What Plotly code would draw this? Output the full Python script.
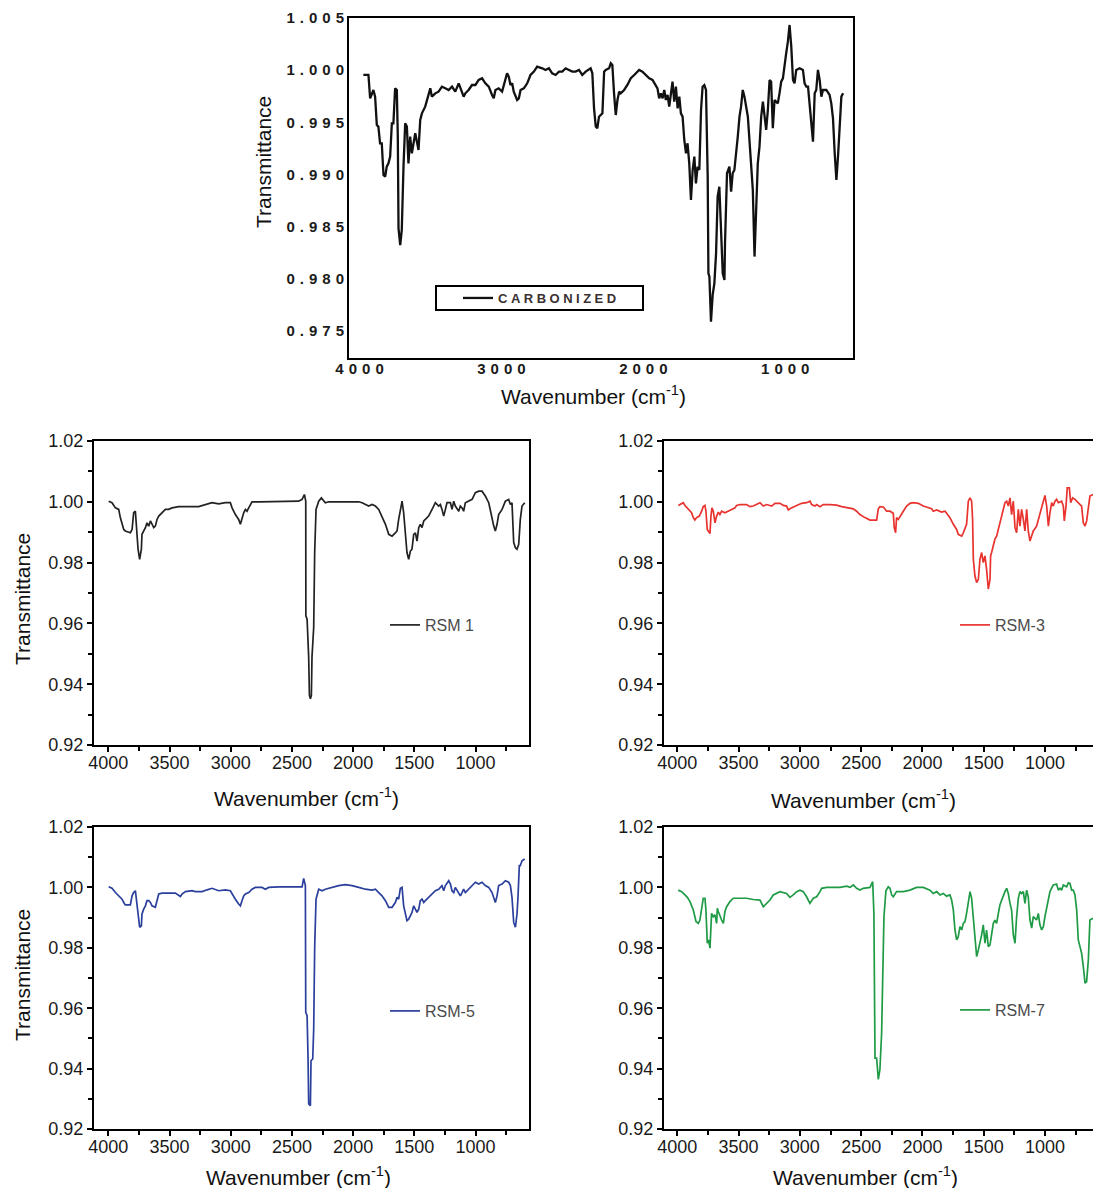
import plotly.graph_objects as go

# ---------------- data ----------------
carb_wn = [3991, 3955, 3943, 3920, 3908, 3896, 3885, 3873, 3861, 3849, 3837, 3826, 3814, 3802, 3790, 3779,
           3767, 3755, 3748, 3743, 3731, 3720, 3708, 3696, 3684, 3673, 3661, 3649, 3625, 3602, 3590, 3578,
           3555, 3531, 3519, 3508, 3484, 3461, 3437, 3413, 3390, 3366, 3343, 3319, 3296, 3284, 3272, 3249,
           3225, 3201, 3178, 3154, 3131, 3107, 3084, 3072, 3060, 3037, 3013, 2989, 2978, 2966, 2954, 2942,
           2931, 2907, 2895, 2883, 2860, 2836, 2813, 2789, 2766, 2730, 2707, 2683, 2660, 2636, 2612, 2589,
           2565, 2542, 2518, 2495, 2471, 2448, 2424, 2389, 2377, 2365, 2353, 2342, 2330, 2306, 2294, 2283,
           2259, 2247, 2236, 2224, 2212, 2200, 2188, 2177, 2153, 2130, 2106, 2082, 2047, 2024, 2000, 1976,
           1953, 1941, 1918, 1906, 1894, 1882, 1870, 1859, 1847, 1835, 1823, 1812, 1800, 1788, 1776, 1764,
           1753, 1741, 1729, 1717, 1706, 1694, 1682, 1670, 1658, 1647, 1635, 1623, 1611, 1600, 1588, 1576,
           1564, 1559, 1552, 1541, 1529, 1517, 1505, 1494, 1482, 1470, 1458, 1446, 1442, 1428, 1411, 1399,
           1388, 1376, 1364, 1352, 1340, 1329, 1317, 1305, 1281, 1270, 1258, 1246, 1234, 1223, 1211, 1199,
           1187, 1175, 1164, 1152, 1140, 1128, 1117, 1105, 1093, 1070, 1058, 1046, 1034, 1022, 1011, 999,
           987, 975, 963, 952, 940, 916, 893, 881, 869, 857, 846, 834, 822, 810, 799, 787,
           775, 763, 752, 728, 705, 693, 681, 669, 657, 645, 634, 622, 610]
carb_t = [0.99954, 0.99954, 0.99730, 0.99810, 0.99746, 0.99475, 0.99459, 0.99299, 0.99299, 0.98995, 0.98979,
          0.99075, 0.99107, 0.99171, 0.99490, 0.99490, 0.99826, 0.99810, 0.99363, 0.98484, 0.98324, 0.98468,
          0.99075, 0.99490, 0.99459, 0.99107, 0.99363, 0.99203, 0.99395, 0.99235, 0.99522, 0.99586, 0.99650,
          0.99778, 0.99826, 0.99746, 0.99778, 0.99794, 0.99842, 0.99826, 0.99810, 0.99842, 0.99794, 0.99874,
          0.99794, 0.99746, 0.99778, 0.99810, 0.99858, 0.99858, 0.99906, 0.99922, 0.99874, 0.99842, 0.99762,
          0.99730, 0.99810, 0.99826, 0.99794, 0.99906, 0.99970, 0.99938, 0.99858, 0.99874, 0.99794, 0.99714,
          0.99730, 0.99810, 0.99826, 0.99874, 0.99954, 0.99986, 1.00034, 1.00018, 1.00002, 1.00018, 0.99970,
          0.99954, 0.99986, 0.99986, 1.00018, 1.00002, 0.99986, 0.99986, 1.00002, 0.99954, 0.99986, 1.00018,
          0.99970, 0.99634, 0.99459, 0.99443, 0.99554, 0.99586, 0.99986, 1.00002, 1.00018, 1.00066, 1.00050,
          0.99778, 0.99570, 0.99714, 0.99794, 0.99778, 0.99810, 0.99858, 0.99922, 0.99954, 1.00002, 0.99986,
          0.99954, 0.99922, 0.99906, 0.99874, 0.99826, 0.99730, 0.99778, 0.99730, 0.99810, 0.99714, 0.99762,
          0.99650, 0.99762, 0.99890, 0.99698, 0.99842, 0.99634, 0.99746, 0.99586, 0.99554, 0.99331, 0.99203,
          0.99299, 0.99107, 0.98756, 0.99043, 0.99171, 0.98915, 0.99075, 0.99043, 0.99618, 0.99842, 0.99858,
          0.99810, 0.98979, 0.98053, 0.98021, 0.97590, 0.97845, 0.97957, 0.98245, 0.98788, 0.98883, 0.98500,
          0.98053, 0.97989, 0.98340, 0.99011, 0.99075, 0.98836, 0.99011, 0.99043, 0.99187, 0.99363, 0.99554,
          0.99650, 0.99810, 0.99746, 0.99554, 0.99347, 0.99107, 0.98852, 0.98213, 0.98596, 0.99107, 0.99267,
          0.99554, 0.99698, 0.99570, 0.99427, 0.99618, 0.99906, 0.99890, 0.99443, 0.99714, 0.99682, 0.99778,
          0.99890, 0.99922, 1.00066, 1.00161, 1.00273, 1.00433, 1.00225, 0.99906, 0.99874, 1.00002, 1.00018,
          1.00002, 0.99874, 0.99842, 0.99842, 0.99682, 0.99522, 0.99315, 0.99778, 0.99810, 1.00002, 0.99906,
          0.99746, 0.99810, 0.99810, 0.99762, 0.99682, 0.99538, 0.99203, 0.98947, 0.99187, 0.99522, 0.99746,
          0.99778]

rsm1_wn = [3997, 3970, 3942, 3915, 3902, 3888, 3874, 3861, 3833, 3820, 3806, 3793, 3779, 3771, 3757, 3744,
           3730, 3725, 3711, 3697, 3684, 3670, 3656, 3643, 3629, 3616, 3602, 3588, 3561, 3534, 3507, 3479,
           3425, 3370, 3316, 3262, 3207, 3153, 3098, 3044, 3003, 2989, 2962, 2935, 2921, 2908, 2894, 2880,
           2867, 2853, 2826, 2771, 2717, 2662, 2608, 2553, 2499, 2445, 2417, 2398, 2387, 2386, 2376, 2363,
           2357, 2349, 2341, 2336, 2322, 2314, 2303, 2281, 2259, 2240, 2227, 2199, 2145, 2063, 1982, 1954,
           1927, 1900, 1873, 1845, 1818, 1791, 1764, 1736, 1709, 1682, 1655, 1641, 1628, 1614, 1600, 1587,
           1573, 1560, 1546, 1532, 1519, 1505, 1491, 1478, 1464, 1451, 1437, 1423, 1410, 1383, 1355, 1328,
           1301, 1287, 1274, 1260, 1246, 1233, 1205, 1192, 1178, 1165, 1137, 1124, 1110, 1097, 1083, 1056,
           1028, 1001, 974, 947, 920, 892, 865, 851, 838, 824, 811, 783, 756, 729, 715, 702,
           688, 674, 661, 647, 634, 620, 598]
rsm1_t = [1.0002, 0.9997, 0.9980, 0.9975, 0.9948, 0.9931, 0.9909, 0.9904, 0.9898, 0.9898, 0.9909, 0.9964,
          0.9969, 0.9920, 0.9844, 0.9811, 0.9844, 0.9893, 0.9904, 0.9915, 0.9931, 0.9920, 0.9937, 0.9926,
          0.9915, 0.9920, 0.9942, 0.9953, 0.9964, 0.9975, 0.9975, 0.9980, 0.9984, 0.9983, 0.9984, 0.9984,
          0.9991, 0.9997, 0.9993, 0.9997, 0.9997, 0.9980, 0.9958, 0.9942, 0.9926, 0.9948, 0.9964, 0.9975,
          0.9969, 0.9980, 1.0000, 1.0000, 1.0000, 1.0000, 1.0002, 1.0000, 1.0000, 1.0002, 1.0008, 1.0024,
          1.0002, 0.9625, 0.9614, 0.9489, 0.9363, 0.9352, 0.9363, 0.9489, 0.9587, 0.9833, 0.9975, 1.0002,
          1.0013, 1.0002, 0.9997, 1.0000, 1.0000, 1.0000, 1.0000, 1.0000, 0.9997, 0.9991, 0.9986, 0.9991,
          0.9986, 0.9975, 0.9953, 0.9926, 0.9893, 0.9887, 0.9898, 0.9904, 0.9942, 0.9975, 1.0002, 0.9964,
          0.9887, 0.9833, 0.9811, 0.9838, 0.9844, 0.9893, 0.9898, 0.9871, 0.9915, 0.9926, 0.9915, 0.9937,
          0.9942, 0.9953, 0.9975, 0.9997, 0.9986, 0.9991, 0.9975, 0.9953, 0.9975, 0.9997, 0.9997, 0.9975,
          1.0002, 0.9986, 0.9969, 0.9986, 0.9980, 0.9969, 0.9997, 1.0002, 1.0008, 1.0030, 1.0035, 1.0035,
          1.0019, 0.9997, 0.9942, 0.9920, 0.9904, 0.9926, 0.9958, 0.9975, 1.0002, 1.0008, 0.9991, 0.9997,
          0.9866, 0.9849, 0.9844, 0.9860, 0.9942, 0.9986, 0.9997]

rsm3_wn = [3991, 3964, 3951, 3937, 3910, 3883, 3869, 3856, 3842, 3820, 3801, 3788, 3774, 3766, 3755, 3739,
           3733, 3725, 3717, 3706, 3692, 3679, 3665, 3652, 3638, 3611, 3584, 3556, 3529, 3516, 3488, 3434,
           3407, 3380, 3353, 3325, 3298, 3271, 3230, 3203, 3162, 3135, 3108, 3094, 3081, 3053, 3026, 2985,
           2945, 2917, 2904, 2877, 2863, 2836, 2809, 2754, 2700, 2659, 2618, 2564, 2537, 2510, 2469, 2428,
           2374, 2360, 2347, 2319, 2292, 2265, 2238, 2230, 2219, 2211, 2197, 2183, 2156, 2129, 2102, 2075,
           2034, 1993, 1952, 1925, 1912, 1884, 1844, 1816, 1803, 1776, 1748, 1721, 1708, 1680, 1667, 1653,
           1640, 1626, 1612, 1599, 1591, 1585, 1572, 1558, 1544, 1531, 1517, 1504, 1490, 1477, 1463, 1449,
           1444, 1436, 1422, 1409, 1395, 1381, 1368, 1354, 1341, 1327, 1313, 1300, 1286, 1273, 1259, 1245,
           1232, 1218, 1205, 1191, 1177, 1164, 1150, 1137, 1123, 1109, 1096, 1069, 1041, 1028, 1014, 1001,
           987, 973, 960, 946, 933, 919, 906, 892, 865, 851, 843, 829, 819, 802, 791, 775,
           756, 729, 702, 688, 674, 661, 647, 634, 609]
rsm3_t = [0.9988, 0.9993, 0.9997, 0.9988, 0.9977, 0.9964, 0.9948, 0.9940, 0.9948, 0.9953, 0.9969, 0.9984,
          0.9988, 0.9969, 0.9909, 0.9898, 0.9896, 0.9953, 0.9980, 0.9969, 0.9931, 0.9953, 0.9966, 0.9958,
          0.9969, 0.9964, 0.9969, 0.9975, 0.9980, 0.9988, 0.9991, 0.9991, 0.9984, 0.9986, 0.9991, 0.9997,
          0.9986, 0.9991, 0.9986, 0.9995, 0.9995, 0.9988, 0.9986, 0.9973, 0.9977, 0.9984, 0.9988, 0.9995,
          0.9997, 1.0002, 0.9991, 0.9986, 0.9991, 0.9984, 0.9991, 0.9991, 0.9989, 0.9984, 0.9980, 0.9977,
          0.9969, 0.9958, 0.9948, 0.9940, 0.9940, 0.9977, 0.9984, 0.9983, 0.9969, 0.9969, 0.9962, 0.9915,
          0.9898, 0.9948, 0.9942, 0.9953, 0.9969, 0.9986, 0.9995, 0.9997, 0.9995, 0.9986, 0.9980, 0.9977,
          0.9969, 0.9973, 0.9966, 0.9969, 0.9962, 0.9948, 0.9926, 0.9909, 0.9893, 0.9887, 0.9898, 0.9915,
          0.9926, 1.0002, 1.0013, 1.0002, 0.9942, 0.9811, 0.9756, 0.9734, 0.9745, 0.9811, 0.9833, 0.9800,
          0.9822, 0.9778, 0.9713, 0.9745, 0.9822, 0.9833, 0.9855, 0.9877, 0.9887, 0.9909, 0.9931, 0.9948,
          0.9975, 0.9997, 1.0002, 0.9986, 1.0013, 0.9958, 1.0002, 0.9915, 0.9898, 0.9975, 0.9920, 0.9975,
          0.9942, 0.9904, 0.9975, 0.9904, 0.9871, 0.9893, 0.9904, 0.9920, 0.9964, 0.9980, 1.0008, 1.0021,
          0.9986, 0.9920, 0.9964, 0.9997, 0.9986, 1.0002, 1.0008, 0.9997, 1.0002, 0.9986, 0.9937, 0.9986,
          1.0046, 1.0046, 0.9997, 1.0013, 1.0008, 0.9997, 0.9986, 0.9931, 0.9920, 0.9937, 0.9986, 1.0019,
          1.0024]

rsm5_wn = [3997, 3970, 3942, 3915, 3888, 3874, 3861, 3833, 3820, 3806, 3793, 3779, 3765, 3757, 3744, 3730,
           3725, 3711, 3697, 3684, 3670, 3656, 3643, 3616, 3602, 3588, 3561, 3507, 3452, 3411, 3398, 3370,
           3316, 3289, 3234, 3193, 3153, 3098, 3044, 3003, 2989, 2962, 2935, 2921, 2908, 2894, 2880, 2853,
           2826, 2799, 2744, 2717, 2690, 2608, 2499, 2417, 2404, 2390, 2387, 2376, 2368, 2363, 2349, 2344,
           2330, 2322, 2314, 2303, 2281, 2254, 2227, 2172, 2118, 2063, 2009, 1954, 1900, 1845, 1818, 1791,
           1764, 1736, 1709, 1682, 1655, 1641, 1628, 1614, 1600, 1587, 1573, 1560, 1546, 1532, 1519, 1505,
           1491, 1478, 1464, 1451, 1437, 1423, 1410, 1383, 1355, 1328, 1301, 1274, 1260, 1246, 1219, 1205,
           1192, 1178, 1165, 1151, 1137, 1124, 1110, 1097, 1083, 1056, 1028, 1001, 974, 947, 920, 892,
           865, 851, 838, 824, 811, 783, 756, 729, 715, 702, 688, 674, 661, 653, 642, 634,
           620, 598]
rsm5_t = [1.0002, 0.9997, 0.9983, 0.9972, 0.9961, 0.9950, 0.9942, 0.9942, 0.9942, 0.9972, 0.9983, 0.9989,
          0.9939, 0.9895, 0.9868, 0.9873, 0.9912, 0.9928, 0.9939, 0.9956, 0.9956, 0.9950, 0.9939, 0.9934,
          0.9956, 0.9978, 0.9981, 0.9981, 0.9981, 0.9970, 0.9978, 0.9986, 0.9989, 0.9986, 0.9986, 0.9992,
          0.9997, 0.9989, 0.9992, 0.9989, 0.9978, 0.9961, 0.9945, 0.9939, 0.9956, 0.9972, 0.9978, 0.9983,
          0.9994, 1.0000, 1.0000, 0.9994, 1.0000, 1.0002, 1.0002, 1.0002, 1.0030, 1.0006, 0.9586, 0.9575,
          0.9432, 0.9283, 0.9277, 0.9426, 0.9432, 0.9531, 0.9801, 0.9961, 0.9994, 0.9989, 0.9994, 1.0000,
          1.0006, 1.0009, 1.0006, 1.0000, 0.9994, 0.9991, 0.9994, 0.9983, 0.9972, 0.9956, 0.9934, 0.9934,
          0.9950, 0.9967, 0.9961, 0.9997, 1.0000, 0.9939, 0.9917, 0.9890, 0.9895, 0.9906, 0.9917, 0.9939,
          0.9928, 0.9917, 0.9928, 0.9956, 0.9961, 0.9950, 0.9956, 0.9967, 0.9978, 0.9989, 0.9994, 1.0006,
          0.9989, 1.0006, 1.0022, 1.0011, 0.9989, 0.9983, 1.0000, 0.9989, 0.9983, 0.9972, 0.9983, 0.9994,
          0.9983, 0.9994, 1.0006, 1.0017, 1.0011, 1.0017, 1.0006, 1.0000, 0.9983, 0.9961, 0.9950, 0.9972,
          1.0006, 1.0011, 1.0022, 1.0017, 1.0006, 0.9967, 0.9884, 0.9868, 0.9912, 0.9967, 1.0072, 1.0072,
          1.0088, 1.0094]

rsm7_wn = [3992, 3964, 3937, 3918, 3896, 3869, 3847, 3828, 3815, 3801, 3788, 3774, 3766, 3755, 3744, 3733,
           3725, 3720, 3706, 3692, 3679, 3673, 3665, 3652, 3638, 3624, 3611, 3597, 3570, 3543, 3489, 3434,
           3380, 3325, 3298, 3271, 3244, 3217, 3162, 3108, 3081, 3054, 3026, 2999, 2972, 2945, 2918, 2890,
           2863, 2836, 2822, 2782, 2727, 2673, 2619, 2591, 2564, 2537, 2510, 2483, 2428, 2406, 2396, 2387,
           2374, 2360, 2347, 2333, 2325, 2314, 2298, 2279, 2265, 2251, 2238, 2211, 2156, 2102, 2048, 1993,
           1939, 1912, 1884, 1857, 1830, 1803, 1776, 1762, 1748, 1735, 1721, 1708, 1694, 1680, 1667, 1653,
           1640, 1626, 1612, 1599, 1585, 1572, 1558, 1544, 1531, 1517, 1504, 1490, 1477, 1463, 1449, 1436,
           1422, 1409, 1395, 1381, 1368, 1354, 1341, 1327, 1313, 1300, 1286, 1273, 1259, 1245, 1232, 1218,
           1205, 1191, 1177, 1164, 1150, 1137, 1123, 1109, 1096, 1069, 1055, 1042, 1028, 1014, 1001, 987,
           973, 960, 933, 906, 892, 878, 865, 851, 824, 810, 797, 783, 770, 756, 742, 729,
           715, 702, 688, 674, 661, 647, 634, 609]
rsm7_t = [0.9991, 0.9986, 0.9975, 0.9967, 0.9953, 0.9925, 0.9887, 0.9881, 0.9892, 0.9925, 0.9964, 0.9964,
          0.9925, 0.9815, 0.9826, 0.9799, 0.9848, 0.9914, 0.9903, 0.9909, 0.9881, 0.9931, 0.9920, 0.9903,
          0.9892, 0.9881, 0.9920, 0.9936, 0.9953, 0.9964, 0.9964, 0.9964, 0.9960, 0.9958, 0.9936, 0.9947,
          0.9958, 0.9975, 0.9986, 0.9980, 0.9967, 0.9975, 0.9986, 0.9991, 0.9986, 0.9969, 0.9947, 0.9964,
          0.9969, 0.9986, 0.9997, 1.0000, 1.0000, 1.0000, 1.0004, 1.0000, 1.0008, 0.9997, 0.9991, 0.9997,
          1.0000, 1.0019, 0.9914, 0.9435, 0.9435, 0.9364, 0.9397, 0.9518, 0.9683, 0.9903, 0.9989, 1.0002,
          0.9997, 0.9975, 0.9969, 0.9986, 0.9986, 0.9991, 1.0000, 1.0000, 0.9991, 0.9980, 0.9986, 0.9975,
          0.9980, 0.9971, 0.9975, 0.9958, 0.9925, 0.9859, 0.9826, 0.9837, 0.9870, 0.9859, 0.9881, 0.9887,
          0.9914, 0.9958, 0.9986, 0.9964, 0.9903, 0.9837, 0.9771, 0.9793, 0.9815, 0.9843, 0.9876, 0.9815,
          0.9859, 0.9804, 0.9810, 0.9843, 0.9881, 0.9892, 0.9881, 0.9914, 0.9942, 0.9958, 0.9975, 0.9986,
          0.9997, 0.9980, 0.9947, 0.9925, 0.9843, 0.9815, 0.9903, 0.9964, 0.9986, 0.9980, 0.9986, 0.9947,
          0.9991, 0.9969, 0.9892, 0.9865, 0.9903, 0.9892, 0.9914, 0.9876, 0.9859, 0.9870, 0.9903, 0.9931,
          0.9969, 0.9986, 1.0008, 1.0011, 0.9991, 0.9997, 0.9991, 1.0008, 1.0002, 1.0015, 1.0013, 0.9991,
          0.9991, 0.9975, 0.9925, 0.9826, 0.9804, 0.9782, 0.9738, 0.9683, 0.9688, 0.9760, 0.9892, 0.9898]

series_names = ["CARBONIZED", "RSM 1", "RSM-3", "RSM-5", "RSM-7"]
series_colors = ["#111111", "#222222", "#e8332f", "#2b3f9c", "#1f9a45"]

top_x_ticks = [4000, 3000, 2000, 1000]
top_x_labels = ["4000", "3000", "2000", "1000"]
top_y_ticks = [0.975, 0.980, 0.985, 0.990, 0.995, 1.000, 1.005]
top_y_labels = ["0.975", "0.980", "0.985", "0.990", "0.995", "1.000", "1.005"]
x_ticks = [4000, 3500, 3000, 2500, 2000, 1500, 1000]
x_labels = ["4000", "3500", "3000", "2500", "2000", "1500", "1000"]
x_minor = [3750, 3250, 2750, 2250, 1750, 1250, 750]
y_ticks = [0.92, 0.94, 0.96, 0.98, 1.00, 1.02]
y_labels = ["0.92", "0.94", "0.96", "0.98", "1.00", "1.02"]
y_minor = [0.93, 0.95, 0.97, 0.99, 1.01]

x_title = "Wavenumber (cm<sup>-1</sup>)"
y_title = "Transmittance"

# ---------------- layout helpers (pixel geometry of the page) ----------------
# The figure fills the whole 1093 x 1188 window (the body margin is removed).
W, H = 1093, 1188
FONT = "Liberation Sans, Arial, sans-serif"


def px_x(x):
    return x / W


def px_y(y):
    return 1 - y / H


def dom_x(a, b):
    return [px_x(a), min(1.0, px_x(b))]


def dom_y(top, bottom):
    return [px_y(bottom), px_y(top)]


def spaced(s, px):
    return '<span style="letter-spacing:%spx">%s</span>' % (px, s)


fig = go.Figure()

data = [
    (carb_wn, carb_t, "x", "y", "legend", 2.3),
    (rsm1_wn, rsm1_t, "x2", "y2", "legend2", 1.7),
    (rsm3_wn, rsm3_t, "x3", "y3", "legend3", 1.7),
    (rsm5_wn, rsm5_t, "x4", "y4", "legend4", 1.7),
    (rsm7_wn, rsm7_t, "x5", "y5", "legend5", 1.7),
]
for i, (xs, ys, xa, ya, lg, lw) in enumerate(data):
    name = series_names[i]
    if i == 0:
        name = "<b>" + spaced(name, 3.5) + "</b>"
    fig.add_trace(go.Scatter(x=xs, y=ys, mode="lines", name=name,
                             line=dict(color=series_colors[i], width=lw),
                             xaxis=xa, yaxis=ya, legend=lg, showlegend=True))

# top panel axes
top_font = dict(family=FONT, size=15, color="#1a1a1a", weight="bold")
layout = dict(
    width=W, height=H, margin=dict(l=0, r=0, t=0, b=0, pad=0, autoexpand=False),
    paper_bgcolor="white", plot_bgcolor="white",
    font=dict(family=FONT, color="#111111"),
    xaxis=dict(domain=dom_x(349, 853), range=[4092, 540], showline=True, linecolor="black",
               linewidth=2, mirror=True, ticks="", showgrid=False, zeroline=False,
               automargin=False, ticklabelstandoff=-4, tickmode="array", tickvals=top_x_ticks,
               ticktext=[spaced(t, 5) for t in top_x_labels], tickfont=top_font,
               anchor="y"),
    yaxis=dict(domain=dom_y(18, 358), range=[0.97241, 1.005], showline=True, linecolor="black",
               linewidth=2, mirror=True, ticks="", showgrid=False, zeroline=False,
               automargin=False, ticklabelstandoff=-5, tickmode="array", tickvals=top_y_ticks,
               ticktext=[spaced(t, 5) for t in top_y_labels], tickfont=top_font,
               anchor="x"),
)

panels = [
    ("xaxis2", "yaxis2", "x2", "y2", (94, 529), (441, 745), [4117, 563], True),
    ("xaxis3", "yaxis3", "x3", "y3", (664, 1093), (441, 745), [4108, 609], False),
    ("xaxis4", "yaxis4", "x4", "y4", (94, 529), (827, 1129), [4117, 563], True),
    ("xaxis5", "yaxis5", "x5", "y5", (664, 1093), (827, 1129), [4108, 609], False),
]
tick_font = dict(family=FONT, size=18, color="#1a1a1a")
for xk, yk, xid, yid, xd, yd, xr, ymirror in panels:
    layout[xk] = dict(domain=dom_x(*xd), range=xr, anchor=yid, showline=True, linecolor="black",
                      linewidth=2, mirror=True, ticks="outside", ticklen=5, tickwidth=1.5,
                      tickcolor="black", showgrid=False, zeroline=False, automargin=False,
                      ticklabelstandoff=-5,
                      tickmode="array", tickvals=x_ticks, ticktext=x_labels, tickfont=tick_font,
                      minor=dict(tickmode="array", tickvals=x_minor, ticks="outside", ticklen=4,
                                 tickwidth=1.5, tickcolor="black", showgrid=False))
    layout[yk] = dict(domain=dom_y(*yd), range=[0.92, 1.02], anchor=xid, showline=True,
                      linecolor="black", linewidth=2, mirror=ymirror, ticks="outside", ticklen=5,
                      tickwidth=1.5, tickcolor="black", showgrid=False, zeroline=False,
                      automargin=False,
                      tickmode="array", tickvals=y_ticks, ticktext=y_labels, tickfont=tick_font,
                      minor=dict(tickmode="array", tickvals=y_minor, ticks="outside", ticklen=4,
                                 tickwidth=1.5, tickcolor="black", showgrid=False))


# legends
def legend_at(xpx, ypx, size, color):
    return dict(x=px_x(xpx), y=px_y(ypx), xanchor="left", yanchor="middle",
                bgcolor="rgba(0,0,0,0)", borderwidth=0,
                font=dict(family=FONT, size=size, color=color))


layout["legend"] = legend_at(458, 298, 13, "#3a3030")
layout["legend2"] = legend_at(385, 625, 16, "#4a4a4a")
layout["legend3"] = legend_at(955, 625, 16, "#4a4a4a")
layout["legend4"] = legend_at(385, 1011, 16, "#4a4a4a")
layout["legend5"] = legend_at(955, 1010, 16, "#4a4a4a")

# legend frame of the top panel
layout["shapes"] = [dict(type="rect", xref="paper", yref="paper",
                         x0=px_x(436), x1=px_x(643), y0=px_y(310), y1=px_y(286),
                         line=dict(color="black", width=2), fillcolor="rgba(0,0,0,0)")]


# axis titles
def ann(text, xpx, ypx, size, angle=0):
    return dict(text=text, x=px_x(xpx), y=px_y(ypx), xref="paper", yref="paper",
                xanchor="center", yanchor="middle", showarrow=False, textangle=angle,
                font=dict(family=FONT, size=size, color="#111111"))


layout["annotations"] = [
    ann(x_title, 593, 395, 21),
    ann(y_title, 263, 162, 21, -90),
    ann(x_title, 306, 797, 21),
    ann(x_title, 863, 799, 21),
    ann(x_title, 298, 1176, 21),
    ann(x_title, 865, 1176, 21),
    ann(y_title, 22, 599, 21, -90),
    ann(y_title, 22, 975, 21, -90),
]

fig.update_layout(**layout)
fig.write_html("out.html", config={"displayModeBar": False},
               post_script="document.documentElement.style.margin='0';"
                           "document.body.style.margin='0';"
                           "document.body.style.overflow='hidden';")
